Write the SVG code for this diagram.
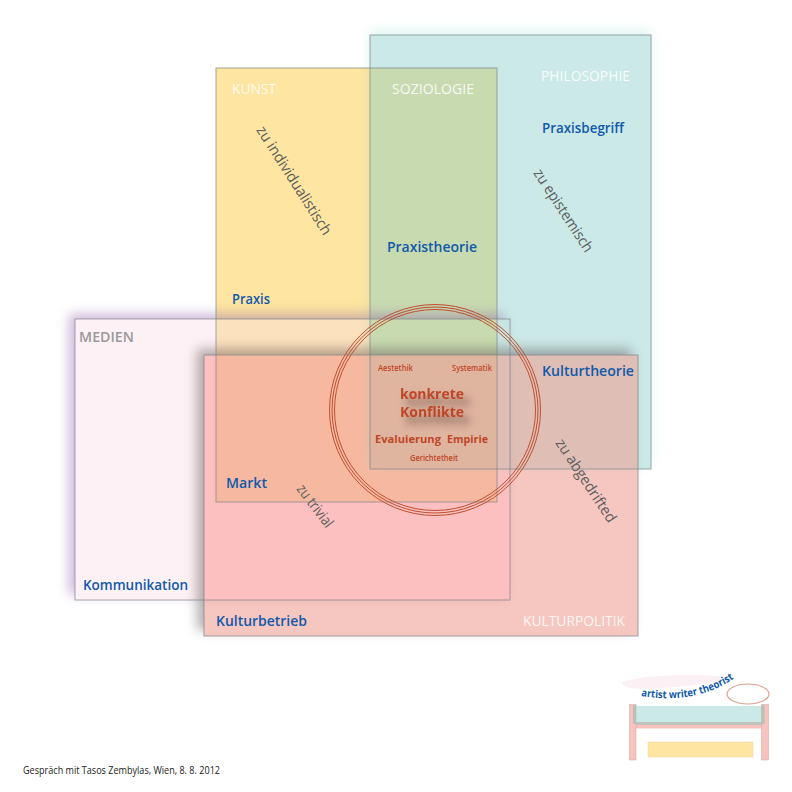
<svg xmlns="http://www.w3.org/2000/svg" xmlns:xlink="http://www.w3.org/1999/xlink" width="792" height="792" viewBox="0 0 792 792">
<style>
text{font-family:"Open Sans","Noto Sans","Liberation Sans",sans-serif}
.edge{fill:none;stroke:#7f8388;stroke-opacity:.7;stroke-width:1}
.head{font-size:14.5px;fill:#fff;fill-opacity:.88}
.term{font-size:15px;font-weight:600;fill:#1059ab}
.note{font-size:15px;fill:#5d5d5d}
.ring{fill:none;stroke:#c04e30;stroke-width:1}
.red{fill:#bf4526;font-weight:600}
.big{fill:#bf4526;font-weight:700}
</style>
<defs>
<filter id="sm" x="-20%" y="-20%" width="140%" height="140%" color-interpolation-filters="sRGB"><feGaussianBlur in="SourceAlpha" stdDeviation="6" result="b"/><feFlood flood-color="#8a5aa8" flood-opacity=".42"/><feComposite in2="b" operator="in"/><feOffset dx="-6" dy="-5"/><feComposite in2="SourceAlpha" operator="out"/></filter>
<filter id="sk" x="-20%" y="-20%" width="140%" height="140%" color-interpolation-filters="sRGB"><feGaussianBlur in="SourceAlpha" stdDeviation="6" result="b"/><feFlood flood-color="#504040" flood-opacity=".42"/><feComposite in2="b" operator="in"/><feOffset dx="-7" dy="-6"/><feComposite in2="SourceAlpha" operator="out"/></filter>
<filter id="sp" x="-20%" y="-20%" width="140%" height="140%" color-interpolation-filters="sRGB"><feGaussianBlur in="SourceAlpha" stdDeviation="6" result="b"/><feFlood flood-color="#90d8c8" flood-opacity=".3"/><feComposite in2="b" operator="in"/><feOffset dx="0" dy="-4"/><feComposite in2="SourceAlpha" operator="out"/></filter>
<filter id="st" x="-20%" y="-30%" width="150%" height="190%" color-interpolation-filters="sRGB"><feGaussianBlur in="SourceAlpha" stdDeviation="4" result="b"/><feOffset in="b" dx="6" dy="7" result="o"/><feFlood flood-color="#5a3a30" flood-opacity=".75"/><feComposite in2="o" operator="in"/><feMerge><feMergeNode/><feMergeNode in="SourceGraphic"/></feMerge></filter>
<path id="arc" d="M641 696Q695 705 735 678"/>
</defs>
<g id="overlaps">
<rect x="370" y="35" width="281" height="434" fill="#cbe9e7"/>
<rect x="216" y="68" width="281" height="434" fill="#fee5a1"/>
<rect x="75" y="319" width="435" height="281" fill="#fdf1f5"/>
<rect x="204" y="355" width="434" height="281" fill="#f6c6c0"/>
<rect x="370" y="68" width="127" height="287" fill="#c8dab0"/>
<rect x="216" y="319" width="154" height="36" fill="#fbe1bd"/>
<rect x="497" y="319" width="13" height="36" fill="#c8e4e2"/>
<rect x="204" y="355" width="306" height="245" fill="#fbc0bf"/>
<rect x="216" y="355" width="281" height="147" fill="#f6b9a0"/>
<rect x="370" y="355" width="268" height="114" fill="#dfbfb5"/>
<rect x="370" y="355" width="127" height="114" fill="#dfb5a0"/>
</g>
<g id="shadows">
<rect x="370" y="35" width="281" height="434" filter="url(#sp)"/>
<rect x="75" y="319" width="435" height="281" filter="url(#sm)"/>
<rect x="204" y="355" width="434" height="281" filter="url(#sk)"/>
</g>
<g id="philosophie"><rect class="edge" x="370" y="35" width="281" height="434"/>
<text class="head" x="541" y="81" textLength="89" lengthAdjust="spacingAndGlyphs">PHILOSOPHIE</text>
<text class="term" x="542" y="133" textLength="82" lengthAdjust="spacingAndGlyphs">Praxisbegriff</text>
<text class="note" transform="translate(533 173) rotate(57)" textLength="96" lengthAdjust="spacingAndGlyphs">zu epistemisch</text></g>
<g id="kunst"><rect class="edge" x="216" y="68" width="281" height="434"/>
<text class="head" x="232" y="94" textLength="44" lengthAdjust="spacingAndGlyphs">KUNST</text>
<text class="term" x="232" y="304" textLength="38" lengthAdjust="spacingAndGlyphs">Praxis</text>
<text class="note" transform="translate(256 130) rotate(57.500)" textLength="126" lengthAdjust="spacingAndGlyphs">zu individualistisch</text></g>
<g id="soziologie">
<text class="head" x="392" y="94" textLength="82" lengthAdjust="spacingAndGlyphs">SOZIOLOGIE</text>
<text class="term" x="387" y="252" textLength="90" lengthAdjust="spacingAndGlyphs">Praxistheorie</text></g>
<g id="medien"><rect class="edge" x="75" y="319" width="435" height="281"/>
<text x="79" y="342" font-size="14.500" font-weight="600" fill="#999" textLength="55" lengthAdjust="spacingAndGlyphs">MEDIEN</text>
<text class="term" x="83" y="590" textLength="105" lengthAdjust="spacingAndGlyphs">Kommunikation</text></g>
<g id="kulturpolitik"><rect class="edge" x="204" y="355" width="434" height="281"/>
<text class="head" x="523" y="626" textLength="102" lengthAdjust="spacingAndGlyphs">KULTURPOLITIK</text>
<text class="term" x="216" y="626" textLength="91" lengthAdjust="spacingAndGlyphs">Kulturbetrieb</text>
<text class="term" x="542" y="376" textLength="92" lengthAdjust="spacingAndGlyphs">Kulturtheorie</text>
<text class="term" x="226" y="488" textLength="41" lengthAdjust="spacingAndGlyphs">Markt</text>
<text class="note" transform="translate(296 489) rotate(53)" textLength="50" lengthAdjust="spacingAndGlyphs">zu trivial</text>
<text class="note" transform="translate(555 443) rotate(56.500)" textLength="97" lengthAdjust="spacingAndGlyphs">zu abgedrifted</text></g>
<g id="konflikte">
<circle class="ring" cx="435" cy="410" r="105.500"/><circle class="ring" cx="435" cy="410" r="103"/><circle class="ring" cx="435" cy="410" r="100.500"/>
<text class="red" x="378" y="371" font-size="8" textLength="35" lengthAdjust="spacingAndGlyphs">Aestethik</text>
<text class="red" x="452" y="371" font-size="8" textLength="40" lengthAdjust="spacingAndGlyphs">Systematik</text>
<g filter="url(#st)"><text class="big" x="400" y="399" font-size="14.500" textLength="64" lengthAdjust="spacingAndGlyphs">konkrete</text>
<text class="big" x="400" y="417" font-size="14.500" textLength="64" lengthAdjust="spacingAndGlyphs">Konflikte</text></g>
<text class="big" x="375" y="443" font-size="11" textLength="66" lengthAdjust="spacingAndGlyphs">Evaluierung</text>
<text class="big" x="447" y="443" font-size="11" textLength="41" lengthAdjust="spacingAndGlyphs">Empirie</text>
<text class="red" x="410" y="461" font-size="8" textLength="48" lengthAdjust="spacingAndGlyphs">Gerichtetheit</text>
</g>
<g id="logo">
<path d="M622 682C640 675 700 673 728 677C716 683 680 688 642 689C630 689 622 686 622 682Z" fill="#fdf0f4"/>
<ellipse cx="748" cy="694" rx="21" ry="10" fill="#fff" stroke="#e0a090" stroke-width="1.200"/>
<rect x="633" y="706" width="130" height="16" fill="#cbe9e7"/>
<rect x="632" y="722" width="133" height="3" fill="#bcc4bc"/>
<rect x="632" y="725" width="133" height="3.500" fill="#f8c3be"/>
<rect x="629.500" y="704.500" width="6.500" height="55.500" fill="#f8c3be" stroke="#c9a8a4" stroke-width=".5"/>
<rect x="761.500" y="704.500" width="7" height="55.500" fill="#f8c3be" stroke="#c9a8a4" stroke-width=".5"/>
<rect x="633" y="705" width="3" height="19" fill="#b8c0b8"/><rect x="761.500" y="705" width="3" height="19" fill="#b8c0b8"/>
<rect x="648" y="742" width="105" height="15" fill="#fee5a1" stroke="#eed8a0" stroke-width=".5"/>
<text font-size="10.500" font-weight="700" fill="#1059ab"><textPath href="#arc" xlink:href="#arc" textLength="97" lengthAdjust="spacingAndGlyphs">artist writer theorist</textPath></text>
</g>
<text x="23" y="774" font-size="10.500" fill="#222" textLength="197" lengthAdjust="spacingAndGlyphs">Gespräch mit Tasos Zembylas, Wien, 8. 8. 2012</text>
</svg>
